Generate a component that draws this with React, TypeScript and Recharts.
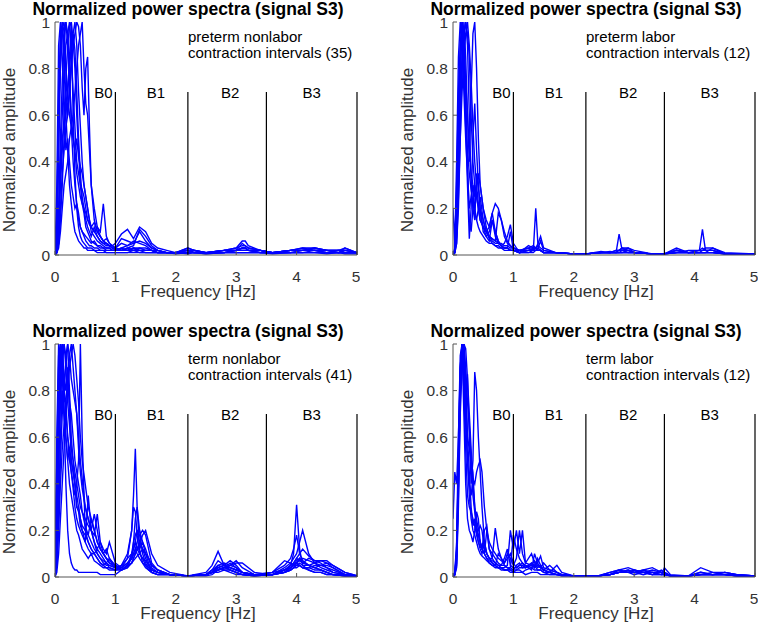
import { LineChart, Line, XAxis, YAxis, ReferenceLine, ReferenceDot } from "recharts"

const BLUE = "#0000ff"
const FONT = '"Liberation Sans", Arial, Helvetica, sans-serif'

const X_TICKS = [0, 1, 2, 3, 4, 5]
const Y_TICKS = [0, 0.2, 0.4, 0.6, 0.8, 1]
const BAND_EDGES = [1, 2.2, 3.5, 5]
const BAND_NAMES = ["B0", "B1", "B2", "B3"]
const BAND_LABEL_X = [0.8, 1.67, 2.9, 4.25]

// preterm nonlabor (35)
const PNL_FREQ = [0, 0.03, 0.06, 0.09, 0.12, 0.15, 0.18, 0.21, 0.24, 0.27,
  0.3, 0.33, 0.36, 0.39, 0.42, 0.45, 0.48, 0.51, 0.54, 0.57,
  0.6, 0.65, 0.7, 0.75, 0.8, 0.85, 0.9, 0.95, 1.0,
  1.1, 1.2, 1.3, 1.4, 1.5, 1.6, 1.7, 1.85, 2.0, 2.2,
  2.3, 2.5, 2.8, 3.0, 3.1, 3.15, 3.2, 3.4, 3.6, 3.9,
  4.1, 4.3, 4.5, 4.7, 4.8, 5.0]
const PNL_1 = [0, .05, .55, .92, 1, .82, .6, .45, .3, .22, .15, .1, .08, .06, .05, .04, .03, .03, .02, .02, .02, .02, .01, .01, .01, .01, .01, .01, .01,
  .01, .01, .02, .01, .01, .01, .01, .01, .01, .005, .01, .005, .01, .01, .01, .01, .01, .01, .005, .01, .01, .01, .005, .01, .005, .005]
const PNL_2 = [0, .02, .2, .5, .75, .9, 1, .95, .8, .55, .4, .3, .22, .18, .12, .1, .08, .06, .05, .04, .04, .03, .03, .02, .02, .02, .02, .02, .02,
  .03, .04, .05, .06, .05, .03, .02, .01, .01, .01, .02, .01, .02, .02, .02, .02, .02, .01, .01, .02, .02, .02, .01, .02, .01, .01]
const PNL_3 = [0, .01, .1, .3, .45, .6, .75, .9, .98, 1, .92, .8, .6, .45, .3, .22, .18, .12, .1, .08, .06, .05, .04, .04, .03, .03, .03, .02, .02,
  .02, .02, .03, .02, .02, .02, .01, .01, .01, .03, .02, .01, .01, .02, .03, .03, .02, .02, .01, .02, .03, .03, .02, .01, .02, .01]
const PNL_4 = [0, .01, .05, .2, .35, .45, .55, .6, .7, .8, .9, .95, 1, .98, .9, .72, .6, .8, .85, .55, .3, .15, .1, .08, .06, .05, .04, .03, .03,
  .02, .02, .02, .03, .02, .02, .01, .01, .01, .02, .01, .01, .02, .03, .06, .06, .04, .02, .01, .01, .02, .02, .02, .01, .01, .01]
const PNL_5 = [0, .1, .7, .95, .98, 1, .8, .6, .7, .85, .95, .88, .7, .5, .35, .25, .2, .15, .12, .1, .08, .12, .08, .06, .05, .05, .04, .03, .02,
  .02, .03, .02, .02, .01, .01, .01, .01, .01, .01, .01, .01, .01, .01, .01, .01, .01, .01, .01, .01, .01, .01, .01, .01, .01, .01]
const PNL_6 = [0, .3, .9, 1, .85, .6, .45, .5, .4, .3, .25, .2, .22, .15, .12, .1, .09, .08, .07, .06, .05, .06, .04, .03, .03, .02, .02, .02, .02,
  .03, .02, .03, .02, .02, .02, .01, .01, .01, .02, .01, .01, .01, .02, .02, .02, .02, .01, .01, .01, .01, .02, .01, .01, .03, .01]
const PNL_7 = [0, .01, .03, .1, .2, .3, .35, .4, .5, .55, .6, .7, .8, .9, .95, 1, .8, .65, .6, .45, .3, .2, .12, .08, .06, .05, .04, .04, .03,
  .02, .02, .03, .03, .03, .02, .01, .01, .01, .01, .01, .01, .01, .02, .05, .04, .03, .02, .01, .02, .02, .03, .02, .02, .01, .01]
const PNL_8 = [0, .02, .15, .4, .6, .8, .9, .95, 1, .85, .7, .55, .4, .35, .3, .28, .25, .2, .15, .13, .12, .1, .12, .1, .22, .08, .05, .04, .03,
  .05, .04, .06, .05, .04, .02, .02, .01, .01, .01, .02, .01, .02, .02, .02, .02, .02, .02, .01, .02, .02, .02, .02, .02, .02, .01]
const PNL_9 = [0, .02, .12, .35, .5, .55, .6, .7, .85, 1, .6, .35, .2, .12, .08, .06, .05, .04, .03, .03, .03, .02, .02, .02, .02, .01, .01, .01, .01,
  .01, .01, .01, .01, .01, .01, .01, .01, .005, .01, .01, .005, .01, .01, .01, .01, .01, .01, .01, .01, .01, .01, .01, .01, .01, .01]
const PNL_10 = [0, .05, .4, .8, .95, .98, 1, .9, .75, .6, .5, .45, .35, .3, .25, .22, .2, .18, .15, .14, .12, .14, .1, .08, .06, .07, .05, .04, .05,
  .09, .11, .07, .12, .1, .05, .03, .02, .01, .03, .02, .01, .02, .02, .03, .03, .02, .02, .01, .02, .02, .02, .02, .02, .02, .01]
const PNL_11 = [0, .01, .05, .15, .3, .5, .65, .7, .8, .9, .95, 1, .9, .7, .55, .4, .3, .25, .2, .15, .1, .08, .06, .05, .04, .03, .03, .02, .02,
  .02, .03, .04, .11, .08, .04, .02, .01, .01, .02, .01, .01, .01, .02, .03, .03, .02, .01, .01, .02, .03, .02, .01, .01, .01, .01]
const PNL_12 = [0, .15, .6, .85, 1, .9, .8, .7, .6, .55, .5, .45, .5, .42, .38, .35, .3, .25, .2, .15, .12, .1, .08, .06, .05, .04, .04, .03, .03,
  .07, .06, .05, .1, .06, .03, .02, .01, .01, .02, .02, .01, .02, .03, .04, .04, .03, .02, .01, .01, .02, .03, .02, .02, .03, .01]

// preterm labor (12)
const PL_FREQ = [0, 0.03, 0.06, 0.09, 0.12, 0.15, 0.18, 0.21, 0.24, 0.27,
  0.3, 0.33, 0.36, 0.39, 0.42, 0.45, 0.5, 0.55, 0.6, 0.65,
  0.7, 0.75, 0.8, 0.85, 0.9, 0.95, 1.0,
  1.1, 1.25, 1.33, 1.37, 1.41, 1.45, 1.5, 1.7, 2.0, 2.2,
  2.45, 2.6, 2.7, 2.75, 2.8, 2.9, 3.0, 3.3, 3.5, 3.7,
  3.9, 4.08, 4.13, 4.18, 4.3, 4.5, 5.0]
const PL_1 = [.2, .05, .4, .85, 1, .9, .7, .5, .35, .2, .25, .3, .2, .15, .12, .1, .08, .06, .05, .05, .04, .03, .03, .02, .02, .02, .02,
  .02, .03, .02, .2, .03, .02, .01, .01, .005, .005, .01, .01, .01, .01, .01, .01, .01, .005, .005, .01, .01, .01, .01, .01, .01, .005, .005]
const PL_2 = [0, .02, .3, .7, .9, 1, .95, .7, .4, .15, .1, .2, .3, .25, .2, .15, .12, .1, .08, .06, .05, .05, .04, .03, .03, .02, .02,
  .01, .02, .03, .03, .05, .08, .03, .01, .005, .005, .01, .01, .01, .09, .02, .01, .01, .005, .005, .01, .01, .01, .01, .01, .01, .005, .005]
const PL_3 = [0, .01, .1, .4, .7, .85, .95, 1, .9, .6, .3, .2, .15, .35, .3, .2, .15, .1, .12, .18, .1, .06, .04, .03, .03, .02, .02,
  .01, .02, .02, .02, .02, .02, .01, .01, .005, .005, .015, .01, .02, .02, .03, .03, .01, .005, .005, .03, .01, .02, .11, .02, .02, .005, .005]
const PL_4 = [0, .01, .05, .2, .5, .8, 1, .85, .6, .4, .7, .95, 1, .8, .5, .3, .2, .12, .08, .07, .06, .05, .05, .04, .04, .03, .03,
  .02, .03, .04, .03, .02, .02, .01, .01, .005, .005, .01, .01, .01, .01, .02, .02, .01, .005, .005, .02, .01, .01, .01, .01, .03, .01, .005]
const PL_5 = [0, .03, .2, .5, .8, .95, .9, .75, .6, .45, .35, .3, .25, .28, .35, .3, .2, .15, .12, .18, .22, .2, .15, .1, .06, .04, .03,
  .02, .02, .02, .02, .03, .06, .02, .01, .005, .005, .01, .015, .01, .01, .01, .02, .01, .005, .005, .01, .01, .02, .02, .02, .02, .005, .005]
const PL_6 = [0, .02, .15, .45, .75, 1, .8, .55, .3, .07, .2, .5, .65, .45, .3, .2, .1, .08, .1, .15, .08, .05, .04, .05, .08, .13, .05,
  .01, .01, .02, .02, .02, .02, .01, .01, .005, .005, .01, .01, .01, .01, .01, .01, .01, .005, .005, .02, .01, .01, .01, .01, .01, .005, .005]
const PL_7 = [0, .01, .08, .3, .6, .8, .95, 1, .95, .85, .6, .4, .3, .25, .2, .15, .12, .1, .08, .07, .06, .18, .15, .08, .05, .04, .03,
  .02, .02, .02, .03, .02, .02, .01, .01, .005, .005, .01, .01, .02, .02, .02, .03, .02, .005, .005, .02, .01, .01, .02, .03, .03, .005, .005]
const PL_8 = [0, .02, .25, .6, .9, 1, .85, .6, .45, .35, .28, .22, .18, .15, .2, .25, .15, .1, .07, .05, .04, .04, .03, .03, .03, .1, .02,
  .01, .04, .03, .03, .04, .03, .02, .01, .005, .005, .01, .01, .01, .02, .03, .02, .01, .005, .005, .01, .02, .02, .03, .02, .02, .005, .005]
const PL_9 = [0, .01, .05, .25, .5, .7, .85, .95, 1, .9, .75, .55, .4, .3, .22, .18, .12, .08, .06, .15, .1, .06, .04, .03, .03, .02, .02,
  .01, .01, .01, .02, .02, .02, .01, .01, .005, .005, .01, .01, .01, .01, .01, .01, .01, .005, .005, .01, .01, .01, .01, .01, .01, .005, .005]

// term nonlabor (41)
const TNL_FREQ = [0, 0.03, 0.06, 0.09, 0.12, 0.15, 0.18, 0.21, 0.24, 0.27,
  0.3, 0.33, 0.36, 0.39, 0.42, 0.45, 0.5, 0.55, 0.6, 0.65,
  0.7, 0.75, 0.8, 0.85, 0.9, 1.0,
  1.1, 1.2, 1.27, 1.3, 1.33, 1.36, 1.4, 1.45, 1.5, 1.55,
  1.6, 1.7, 1.9, 2.2, 2.5, 2.6, 2.7, 2.8, 2.9, 3.0,
  3.1, 3.3, 3.6, 3.8, 3.9, 3.95, 4.0, 4.05, 4.1, 4.2,
  4.3, 4.4, 4.5, 4.6, 4.8, 5.0]
const TNL_1 = [0, .5, .95, 1, .9, .7, .6, .5, .4, .35, .3, .25, .2, .18, .15, .12, .1, .08, .1, .07, .06, .05, .04, .04, .03, .03,
  .04, .08, .2, .35, .55, .3, .12, .06, .04, .03, .02, .01, .01, .005, .01, .02, .04, .03, .02, .01,
  .01, .005, .01, .03, .05, .1, .31, .12, .05, .03, .02, .02, .01, .01, .005, .005]
const TNL_2 = [0, .2, .7, .95, 1, .85, .8, .9, .7, .5, .45, .4, .3, .28, .22, .2, .15, .12, .1, .1, .08, .06, .05, .06, .04, .03,
  .05, .1, .2, .3, .28, .18, .1, .08, .05, .03, .02, .01, .01, .005, .02, .05, .11, .05, .03, .02,
  .01, .005, .02, .05, .08, .12, .18, .1, .07, .05, .04, .03, .02, .01, .005, .005]
const TNL_3 = [0, .1, .5, .8, .95, 1, .9, .75, .65, .55, .5, .45, .4, .35, .3, .28, .22, .18, .25, .2, .15, .12, .1, .08, .06, .05,
  .03, .05, .1, .15, .18, .2, .2, .15, .12, .08, .05, .03, .01, .005, .01, .03, .05, .06, .05, .04,
  .02, .01, .01, .04, .06, .08, .1, .15, .2, .1, .06, .04, .03, .02, .01, .005]
const TNL_4 = [0, .05, .3, .6, .8, .7, .6, .5, .55, .45, .4, .35, .4, .5, 1, .6, .2, .15, .12, .1, .08, .06, .05, .04, .04, .03,
  .03, .04, .06, .08, .1, .12, .12, .15, .1, .06, .03, .02, .01, .005, .01, .02, .04, .05, .07, .05,
  .02, .01, .01, .03, .04, .05, .07, .08, .07, .05, .04, .03, .02, .01, .005, .005]
const TNL_5 = [0, .3, .85, 1, .95, .8, .7, .6, .5, .45, .38, .3, .25, .22, .2, .18, .15, .35, .2, .15, .1, .08, .06, .05, .05, .04,
  .04, .06, .08, .1, .12, .15, .18, .2, .18, .12, .06, .03, .01, .005, .01, .02, .03, .04, .05, .07,
  .04, .01, .01, .02, .04, .06, .08, .07, .06, .08, .07, .06, .04, .02, .01, .005]
const TNL_6 = [0, .1, .45, .75, .9, 1, .95, .85, .75, .7, .6, .5, .45, .4, .35, .28, .25, .22, .2, .27, .2, .12, .1, .08, .07, .05,
  .03, .04, .1, .12, .15, .2, .15, .12, .1, .08, .05, .03, .01, .005, .005, .01, .03, .04, .06, .04,
  .02, .01, .02, .03, .05, .06, .08, .1, .12, .09, .07, .07, .06, .04, .01, .005]
const TNL_7 = [0, .05, .2, .4, .55, .65, .75, .85, .95, 1, .9, .8, .7, .55, .45, .38, .3, .25, .2, .18, .27, .15, .12, .1, .15, .06,
  .04, .06, .08, .1, .1, .12, .15, .12, .08, .05, .03, .02, .01, .005, .01, .03, .04, .05, .04, .03,
  .02, .01, .02, .07, .06, .05, .05, .06, .05, .05, .06, .07, .07, .05, .02, .005]
const TNL_8 = [0, .4, .9, .98, .85, .75, .95, 1, .8, .6, .5, .4, .35, .3, .25, .2, .18, .15, .12, .1, .12, .1, .08, .06, .05, .04,
  .03, .05, .06, .07, .08, .09, .1, .08, .07, .05, .03, .02, .01, .005, .01, .03, .07, .05, .04, .03,
  .02, .005, .01, .02, .03, .04, .05, .05, .04, .04, .05, .05, .04, .03, .01, .005]
const TNL_9 = [0, .15, .6, .9, 1, .7, .4, .2, .1, .06, .04, .03, .03, .02, .02, .02, .02, .02, .02, .02, .02, .01, .01, .01, .01, .01,
  .03, .05, .08, .15, .25, .3, .2, .1, .06, .04, .02, .01, .01, .005, .01, .02, .03, .04, .03, .02,
  .01, .005, .01, .02, .03, .04, .06, .05, .04, .03, .02, .02, .01, .01, .005, .005]
const TNL_10 = [0, .05, .25, .5, .7, .85, .9, 1, .95, .85, .8, .75, .7, .6, .5, .42, .3, .25, .2, .15, .12, .15, .1, .08, .06, .04,
  .03, .05, .06, .08, .1, .12, .14, .18, .2, .15, .1, .05, .02, .005, .01, .02, .03, .04, .05, .06,
  .06, .02, .01, .02, .04, .05, .06, .07, .08, .07, .06, .05, .06, .05, .02, .005]
const TNL_11 = [0, .02, .1, .25, .4, .55, .7, .8, .9, .95, 1, .95, .85, .75, .6, .5, .4, .3, .25, .2, .15, .12, .1, .12, .08, .05,
  .04, .06, .08, .1, .12, .1, .08, .06, .05, .04, .03, .02, .01, .005, .01, .02, .02, .03, .03, .02,
  .01, .005, .01, .02, .03, .04, .04, .05, .04, .04, .03, .03, .02, .01, .01, .005]
const TNL_12 = [0, .6, 1, .85, .7, .8, .75, .6, .55, .5, .45, .4, .3, .3, .25, .22, .2, .18, .15, .12, .1, .08, .07, .06, .08, .04,
  .05, .08, .1, .12, .15, .12, .1, .12, .1, .08, .04, .02, .01, .005, .01, .02, .05, .04, .04, .03,
  .02, .01, .01, .03, .04, .05, .06, .08, .06, .05, .04, .05, .05, .04, .01, .005]

// term labor (12)
const TL_FREQ = [0, 0.03, 0.06, 0.09, 0.12, 0.15, 0.18, 0.21, 0.24, 0.27,
  0.3, 0.33, 0.36, 0.39, 0.42, 0.45, 0.48, 0.52, 0.56, 0.6,
  0.65, 0.7, 0.75, 0.8, 0.85, 0.9, 0.95, 1.0,
  1.05, 1.1, 1.15, 1.2, 1.3, 1.35, 1.4, 1.45, 1.5, 1.6,
  1.72, 1.8, 2.0, 2.4, 2.6, 2.75, 2.9, 3.0, 3.15, 3.3,
  3.45, 3.5, 3.6, 3.9, 4.1, 4.3, 4.5, 4.7, 5.0]
const TL_1 = [.25, .45, .4, .6, .9, 1, .95, .7, .5, .35, .25, .2, .18, .15, .12, .1, .09, .08, .07, .06, .05, .05, .04, .04, .03, .03, .03, .02,
  .02, .02, .02, .01, .02, .02, .02, .01, .01, .01, .01, .005, .005, .005, .01, .02, .02, .02, .02, .01, .01, .01, .005, .005, .01, .01, .01, .005, .005]
const TL_2 = [0, .01, .05, .4, .85, 1, .9, .75, .87, .6, .4, .5, .88, .8, .6, .45, .3, .15, .1, .08, .06, .05, .04, .04, .03, .03, .02, .02,
  .03, .03, .02, .03, .04, .05, .03, .03, .02, .01, .01, .005, .005, .005, .01, .02, .03, .02, .03, .02, .01, .01, .005, .005, .02, .01, .01, .005, .005]
const TL_3 = [0, .01, .1, .5, .9, 1, .85, .65, .5, .4, .35, .42, .4, .45, .48, .5, .45, .3, .2, .12, .1, .08, .06, .05, .05, .04, .04, .03,
  .05, .06, .04, .04, .06, .04, .08, .05, .03, .02, .01, .01, .005, .005, .02, .03, .02, .03, .02, .03, .02, .02, .005, .005, .01, .02, .02, .01, .005]
const TL_4 = [0, .02, .15, .6, .95, 1, .7, .4, .25, .2, .18, .15, .2, .28, .25, .15, .12, .2, .22, .12, .08, .21, .12, .08, .06, .1, .08, .05,
  .08, .2, .1, .06, .05, .07, .05, .04, .06, .03, .02, .01, .005, .005, .02, .03, .04, .03, .02, .01, .01, .04, .01, .005, .02, .01, .02, .01, .005]
const TL_5 = [0, .01, .08, .45, .8, .95, 1, .85, .6, .45, .3, .22, .25, .2, .15, .12, .1, .15, .1, .08, .07, .06, .05, .04, .04, .05, .2, .12,
  .2, .1, .2, .06, .1, .06, .04, .05, .03, .02, .01, .01, .005, .005, .01, .02, .02, .03, .02, .02, .02, .01, .005, .005, .04, .02, .01, .01, .005]
const TL_6 = [0, .02, .12, .5, .88, 1, .8, .55, .35, .3, .28, .25, .22, .18, .15, .13, .12, .1, .2, .15, .12, .1, .08, .07, .06, .08, .1, .06,
  .04, .05, .06, .04, .06, .05, .06, .09, .04, .03, .02, .01, .005, .005, .01, .03, .02, .02, .03, .04, .02, .02, .005, .005, .01, .01, .02, .01, .005]
const TL_7 = [0, .01, .06, .35, .75, .98, 1, .9, .75, .65, .5, .35, .28, .2, .18, .15, .12, .1, .08, .07, .06, .05, .1, .08, .05, .04, .03, .03,
  .03, .04, .04, .05, .03, .1, .06, .04, .03, .05, .02, .01, .005, .005, .01, .02, .02, .01, .02, .02, .01, .01, .005, .005, .01, .01, .01, .005, .005]
const TL_8 = [0, .02, .1, .4, .8, 1, .95, .8, .6, .55, .5, .45, .3, .25, .2, .22, .2, .12, .1, .08, .08, .06, .05, .05, .08, .12, .05, .04,
  .04, .05, .05, .04, .05, .04, .05, .04, .03, .02, .05, .02, .005, .005, .01, .02, .03, .02, .01, .02, .02, .02, .005, .005, .01, .01, .01, .005, .005]
const TL_9 = [0, .01, .04, .3, .7, .9, 1, .98, .85, .7, .55, .4, .3, .22, .18, .15, .12, .1, .08, .06, .05, .04, .04, .03, .03, .03, .04, .18,
  .12, .08, .06, .05, .04, .03, .03, .03, .02, .02, .01, .01, .005, .005, .01, .02, .02, .02, .02, .01, .03, .02, .005, .005, .01, .01, .01, .005, .005]

const PANELS = [
  { left: 0, top: 0, group: "preterm nonlabor", count: 35, freq: PNL_FREQ,
    series: [PNL_1, PNL_2, PNL_3, PNL_4, PNL_5, PNL_6, PNL_7, PNL_8, PNL_9, PNL_10, PNL_11, PNL_12] },
  { left: 398, top: 0, group: "preterm labor", count: 12, freq: PL_FREQ,
    series: [PL_1, PL_2, PL_3, PL_4, PL_5, PL_6, PL_7, PL_8, PL_9] },
  { left: 0, top: 322, group: "term nonlabor", count: 41, freq: TNL_FREQ,
    series: [TNL_1, TNL_2, TNL_3, TNL_4, TNL_5, TNL_6, TNL_7, TNL_8, TNL_9, TNL_10, TNL_11, TNL_12] },
  { left: 398, top: 322, group: "term labor", count: 12, freq: TL_FREQ,
    series: [TL_1, TL_2, TL_3, TL_4, TL_5, TL_6, TL_7, TL_8, TL_9] },
]

const tickStyle = { fill: "#333", fontSize: 15.5, fontFamily: FONT }

function XTitle(props: any) {
  const vb = props.viewBox || { x: 55, y: 255, width: 302, height: 50 }
  return (
    <text x={vb.x + 143} y={vb.y + 42} textAnchor="middle" fontSize={17} fontFamily={FONT} fill="#333">
      Frequency [Hz]
    </text>
  )
}

function YTitle(props: any) {
  const vb = props.viewBox || { x: 0, y: 22, width: 55, height: 233 }
  const cx = vb.x + 9
  const cy = vb.y + 128
  return (
    <text x={cx} y={cy} transform={`rotate(-90 ${cx} ${cy})`} textAnchor="middle" dominantBaseline="central"
      fontSize={17} fontFamily={FONT} fill="#333">
      Normalized amplitude
    </text>
  )
}

function SpectraPanel({ left, top, group, count, freq, series }: any) {
  const rows = freq.map((f: number, i: number) => {
    const row: any = { f }
    series.forEach((s: number[], k: number) => { row[`s${k}`] = s[i] })
    return row
  })

  return (
    <div style={{ position: "absolute", left, top, width: 360, height: 305 }}>
      <div style={{ position: "absolute", left: -12, top: 1, width: 400, textAlign: "center",
        fontWeight: "bold", fontSize: 17.5, lineHeight: "16px", color: "#000" }}>
        Normalized power spectra (signal S3)
      </div>
      <LineChart width={360} height={305} data={rows} margin={{ top: 22, right: 3, bottom: 0, left: 0 }}>
        <XAxis dataKey="f" type="number" domain={[0, 5]} ticks={X_TICKS} allowDataOverflow
          height={50} tickSize={-4} tickMargin={20} stroke="#555" tick={tickStyle}
          label={<XTitle />} />
        <YAxis type="number" domain={[0, 1]} ticks={Y_TICKS} allowDataOverflow
          width={55} tickSize={-4} tickMargin={9} stroke="#555" tick={tickStyle}
          label={<YTitle />} />
        {series.map((_: number[], k: number) => (
          <Line key={k} dataKey={`s${k}`} type="linear" stroke={BLUE} strokeWidth={1.4}
            dot={false} activeDot={false} isAnimationActive={false} />
        ))}
        {BAND_EDGES.map((b) => (
          <ReferenceLine key={b} segment={[{ x: b, y: 0 }, { x: b, y: 0.7 }]} stroke="#000" strokeWidth={1.2} />
        ))}
        {BAND_NAMES.map((n, i) => (
          <ReferenceDot key={n} x={BAND_LABEL_X[i]} y={0.695} r={0} fill="none" stroke="none"
            label={{ value: n, position: "center", fill: "#000", fontSize: 15, fontFamily: FONT }} />
        ))}
      </LineChart>
      <div style={{ position: "absolute", left: 188, top: 29, fontSize: 15, lineHeight: "16px",
        color: "#000", whiteSpace: "pre" }}>
        {`${group}\ncontraction intervals (${count})`}
      </div>
    </div>
  )
}

export default function App() {
  return (
    <div style={{ position: "absolute", left: 0, top: 0, width: 760, height: 627, overflow: "hidden",
      background: "#fff", fontFamily: FONT }}>
      {PANELS.map((p) => (
        <SpectraPanel key={p.group} {...p} />
      ))}
    </div>
  )
}
